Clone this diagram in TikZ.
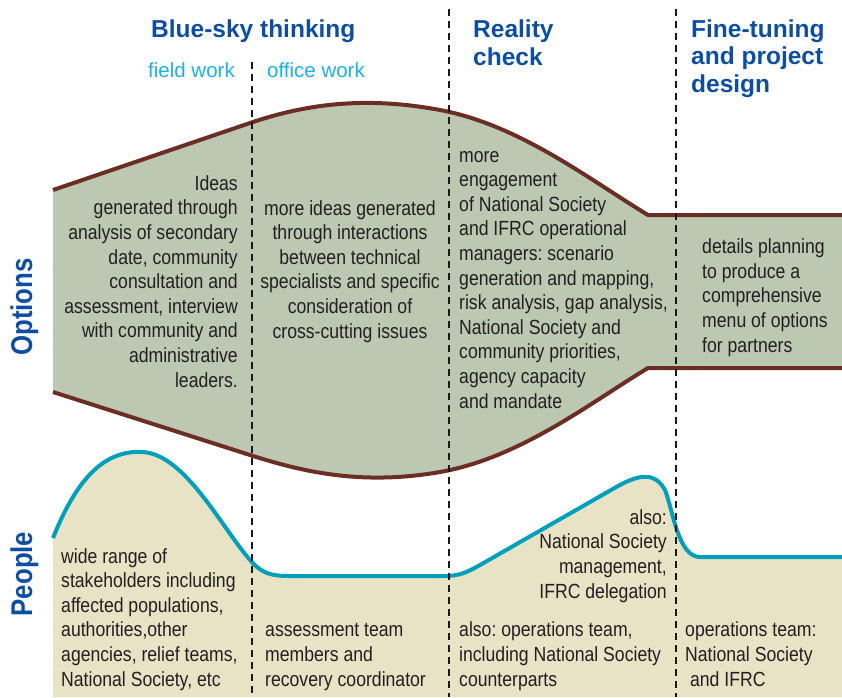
\documentclass[tikz,border=0pt]{standalone}
\usepackage{fontspec}
\setmainfont{Liberation Sans}
\newfontfamily\narrowfont[FakeStretch=0.86]{Liberation Sans}
\frenchspacing
\usetikzlibrary{positioning}
\definecolor{headblue}{HTML}{0D4EA2}
\definecolor{lightblue}{HTML}{1BB1E7}
\definecolor{bandbrown}{HTML}{6B2E25}
\definecolor{bandgreen}{HTML}{BCC8B2}
\definecolor{peopleteal}{HTML}{009FBC}
\definecolor{peoplebeige}{HTML}{E8E3C5}
\definecolor{bodygrey}{HTML}{231F20}
\tikzset{
  heading/.style={font=\fontsize{24.5}{27.5}\selectfont\bfseries, text=headblue, align=left, inner sep=0pt},
  subheading/.style={font=\fontsize{20.5}{24}\selectfont, text=lightblue, inner sep=0pt},
  sidelabel/.style={font=\narrowfont\fontsize{30}{32}\selectfont\bfseries, text=headblue, rotate=90, inner sep=0pt},
  bodytext/.style={font=\narrowfont\fontsize{20.5}{24.6}\selectfont\frenchspacing, text=bodygrey, inner sep=0pt},
  divider/.style={black!90, line width=2pt, dash pattern=on 7pt off 5pt},
  optionsline/.style={bandbrown, line width=4pt},
  peopleline/.style={peopleteal, line width=4pt}
}

\begin{document}
\begin{tikzpicture}[x=1pt,y=-1pt]
        \useasboundingbox (0,0) rectangle (842,697);
        % options band
        \fill[bandgreen] (53,190) -- (250,123) .. controls (300,106) and (360,95) .. (440,110)
          .. controls (520,125) and (590,180) .. (648,215) -- (842,215) -- (842,368) -- (648,368)
          .. controls (590,403) and (520,458) .. (440,472) .. controls (360,486) and (300,471) .. (250,455)
          -- (53,392) -- cycle;
        % people area
        \fill[peoplebeige] (53,538) .. controls (80,470) and (110,450) .. (143,452)
          .. controls (185,455) and (220,525) .. (250,560) .. controls (262,574) and (272,576) .. (290,576)
          -- (445,576) .. controls (458,576) and (466,573) .. (480,565) -- (618,486)
          .. controls (640,474) and (655,472) .. (665,490) .. controls (673,510) and (678,557) .. (700,557)
          -- (842,557) -- (842,697) -- (53,697) -- cycle;
        \draw[optionsline] (53,190) -- (250,123) .. controls (300,106) and (360,95) .. (440,110)
          .. controls (520,125) and (590,180) .. (648,215) -- (842,215);
        \draw[optionsline] (53,392) -- (250,455) .. controls (300,471) and (360,486) .. (440,472)
          .. controls (520,458) and (590,403) .. (648,368) -- (842,368);
        \draw[peopleline] (53,538) .. controls (80,470) and (110,450) .. (143,452)
          .. controls (185,455) and (220,525) .. (250,560) .. controls (262,574) and (272,576) .. (290,576)
          -- (445,576) .. controls (458,576) and (466,573) .. (480,565) -- (618,486)
          .. controls (640,474) and (655,472) .. (665,490) .. controls (673,510) and (678,557) .. (700,557)
          -- (842,557);
        % phase dividers
        \coordinate (fieldtop) at (252,62);
        \coordinate (fieldbot) at (252,697);
        \coordinate (realtop) at (449,9);
        \coordinate (realbot) at (449,697);
        \coordinate (finetop) at (676,9);
        \coordinate (finebot) at (676,697);
        \draw[divider] (fieldtop) -- (fieldbot);
        \draw[divider] (realtop) -- (realbot);
        \draw[divider] (finetop) -- (finebot);
        % headings (base = last line)
        \node[heading, anchor=base west] (bluesky) at (151,37) {Blue-sky thinking};
        \node[subheading, anchor=base west] (fieldwork) at (148,77) {field work};
        \node[subheading, anchor=base west] (officework) at (267,77) {office work};
        \node[heading, anchor=base west] (reality) at (473,65) {Reality\\check};
        \node[heading, anchor=base west] (finetuning) at (691,92) {Fine-tuning\\and project\\design};
        \node[sidelabel, anchor=base] (options) at (32,307) {Options};
        \node[sidelabel, anchor=base] (people) at (32,574) {People};
        % options texts
        \node[bodytext, align=right, anchor=base east] (optfield) at (238,387)
          {Ideas\\generated through\\analysis of secondary\\date, community\\consultation and\\assessment, interview\\with community and\\administrative\\leaders.};
        \node[bodytext, align=center, anchor=base] (optoffice) at (350,338)
          {more ideas generated\\through interactions\\between technical\\specialists and specific\\consideration of\\cross-cutting issues};
        \node[bodytext, align=left, anchor=base west] (optreality) at (459,408)
          {more\\engagement\\of National Society\\and IFRC operational\\managers: scenario\\generation and mapping,\\risk analysis, gap analysis,\\National Society and\\community priorities,\\agency capacity\\and mandate};
        \node[bodytext, align=left, anchor=base west] (optfine) at (702,352)
          {details planning\\to produce a\\comprehensive\\menu of options\\for partners};
        % people texts
        \node[bodytext, align=left, anchor=base west] (pplfield) at (61,686)
          {wide range of\\stakeholders including\\affected populations,\\authorities,other\\agencies, relief teams,\\National Society, etc};
        \node[bodytext, align=left, anchor=base west] (pploffice) at (265,686)
          {assessment team\\members and\\recovery coordinator};
        \node[bodytext, align=left, anchor=base west] (pplreality) at (459,686)
          {also: operations team,\\including National Society\\counterparts};
        \node[bodytext, align=right, anchor=base east] (pplalso) at (667,598)
          {also:\\National Society\\management,\\IFRC delegation};
        \node[bodytext, align=left, anchor=base west] (pplfine) at (685,686)
          {operations team:\\National Society\\\ and IFRC};
      \end{tikzpicture}
\end{document}
